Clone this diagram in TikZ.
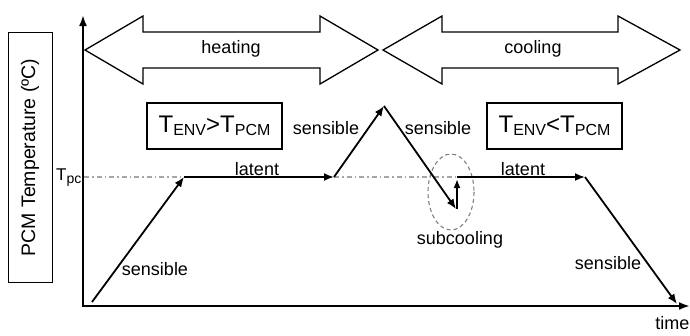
\documentclass[tikz,border=0pt]{standalone}
\usepackage{fontspec}
\setmainfont{Liberation Sans}
\usetikzlibrary{arrows.meta}
\newcommand{\subcap}[1]{\raisebox{-0.25ex}{\fontsize{16}{16}\selectfont #1}}
\begin{document}
\begin{tikzpicture}[x=1pt,y=-1pt,
  lbl/.style={font=\fontsize{18}{20}\selectfont, inner sep=0pt},
  curve/.style={line width=1.8pt, -{Latex[length=10pt,width=8pt]}},
  axis/.style={line width=2.2pt, -{Latex[length=11pt,width=8pt]}},
  cond/.style={draw, line width=1.3pt, minimum width=135pt, minimum height=46pt, inner sep=0pt, font=\fontsize{24}{26}\selectfont},
  blockarrow/.style={draw, line width=1.3pt, line join=miter},
  tpcline/.style={gray!70, line width=1.2pt, dash pattern=on 5pt off 3pt on 1.5pt off 3pt},
  subring/.style={gray, line width=1.1pt, dash pattern=on 4pt off 3pt}]
\useasboundingbox (0,0) rectangle (690,335);

% y-axis label box
\node[draw, line width=0.8pt, minimum width=250pt, minimum height=44pt, rotate=90, inner sep=0pt,
      font=\fontsize{19.5}{21}\selectfont] (ylabel) at (30,157.5) {PCM Temperature (\textordmasculine C)};

% axes
\coordinate (origin) at (83,306);
\coordinate (ytop) at (83,15);
\coordinate (xend) at (690,306);
\draw[axis] (origin) -- (ytop);
\draw[axis] ([xshift=-1pt]origin) -- (xend);

% Tpc line and label
\coordinate (tpcA) at (84,177);
\coordinate (tpcB) at (462,177);
\draw[tpcline] (tpcA) -- (tpcB);
\node[font=\fontsize{17}{18}\selectfont, inner sep=0pt, anchor=base west] (tpc) at (56,180) {T\raisebox{-0.4ex}{\fontsize{14}{14}\selectfont pc}};

% block arrows
\draw[blockarrow] (85,50) -- (143,16) -- (143,32) -- (320,32) -- (320,16) -- (378,50)
   -- (320,84) -- (320,68) -- (143,68) -- (143,84) -- cycle;
\node[lbl] (heating) at (231,49) {heating};
\draw[blockarrow] (383,50) -- (442,16) -- (442,32) -- (618,32) -- (618,16) -- (680,50)
   -- (618,84) -- (618,68) -- (442,68) -- (442,84) -- cycle;
\node[lbl] (cooling) at (533,49) {cooling};

% condition boxes
\node[cond] (condH) at (214.5,126) {T\subcap{ENV}>T\subcap{PCM}};
\node[cond] (condC) at (554.5,126) {T\subcap{ENV}<T\subcap{PCM}};

% temperature curve
\coordinate (p0) at (92,302);
\coordinate (p1) at (184,177);
\coordinate (p2) at (334,177);
\coordinate (p3) at (384,106);
\coordinate (p4) at (456,209);
\coordinate (p4t) at (457,179);
\coordinate (p5) at (457,177);
\coordinate (p6) at (585,177);
\coordinate (p7) at (677,304);

\draw[subring] (451,192) ellipse [x radius=23, y radius=38];

\draw[curve] (p0) -- (p1);
\draw[curve] (p1) -- (p2);
\draw[curve] (p2) -- (p3);
\draw[curve] (p3) -- (p4);
\draw[curve, -{Latex[length=9pt,width=7pt]}] ([xshift=1pt]p4) -- (p4t);
\draw[curve] (p5) -- (p6);
\draw[curve] (p6) -- (p7);

% labels
\node[lbl] (s1) at (155,269) {sensible};
\node[lbl] (l1) at (257,169) {latent};
\node[lbl] (s2) at (326,128) {sensible};
\node[lbl] (s3) at (438,128) {sensible};
\node[lbl] (sub) at (460,240) {subcooling};
\node[lbl] (l2) at (523,169) {latent};
\node[lbl] (s4) at (608,263) {sensible};
\node[lbl, anchor=east] (time) at (689.5,323) {time};
\end{tikzpicture}
\end{document}
